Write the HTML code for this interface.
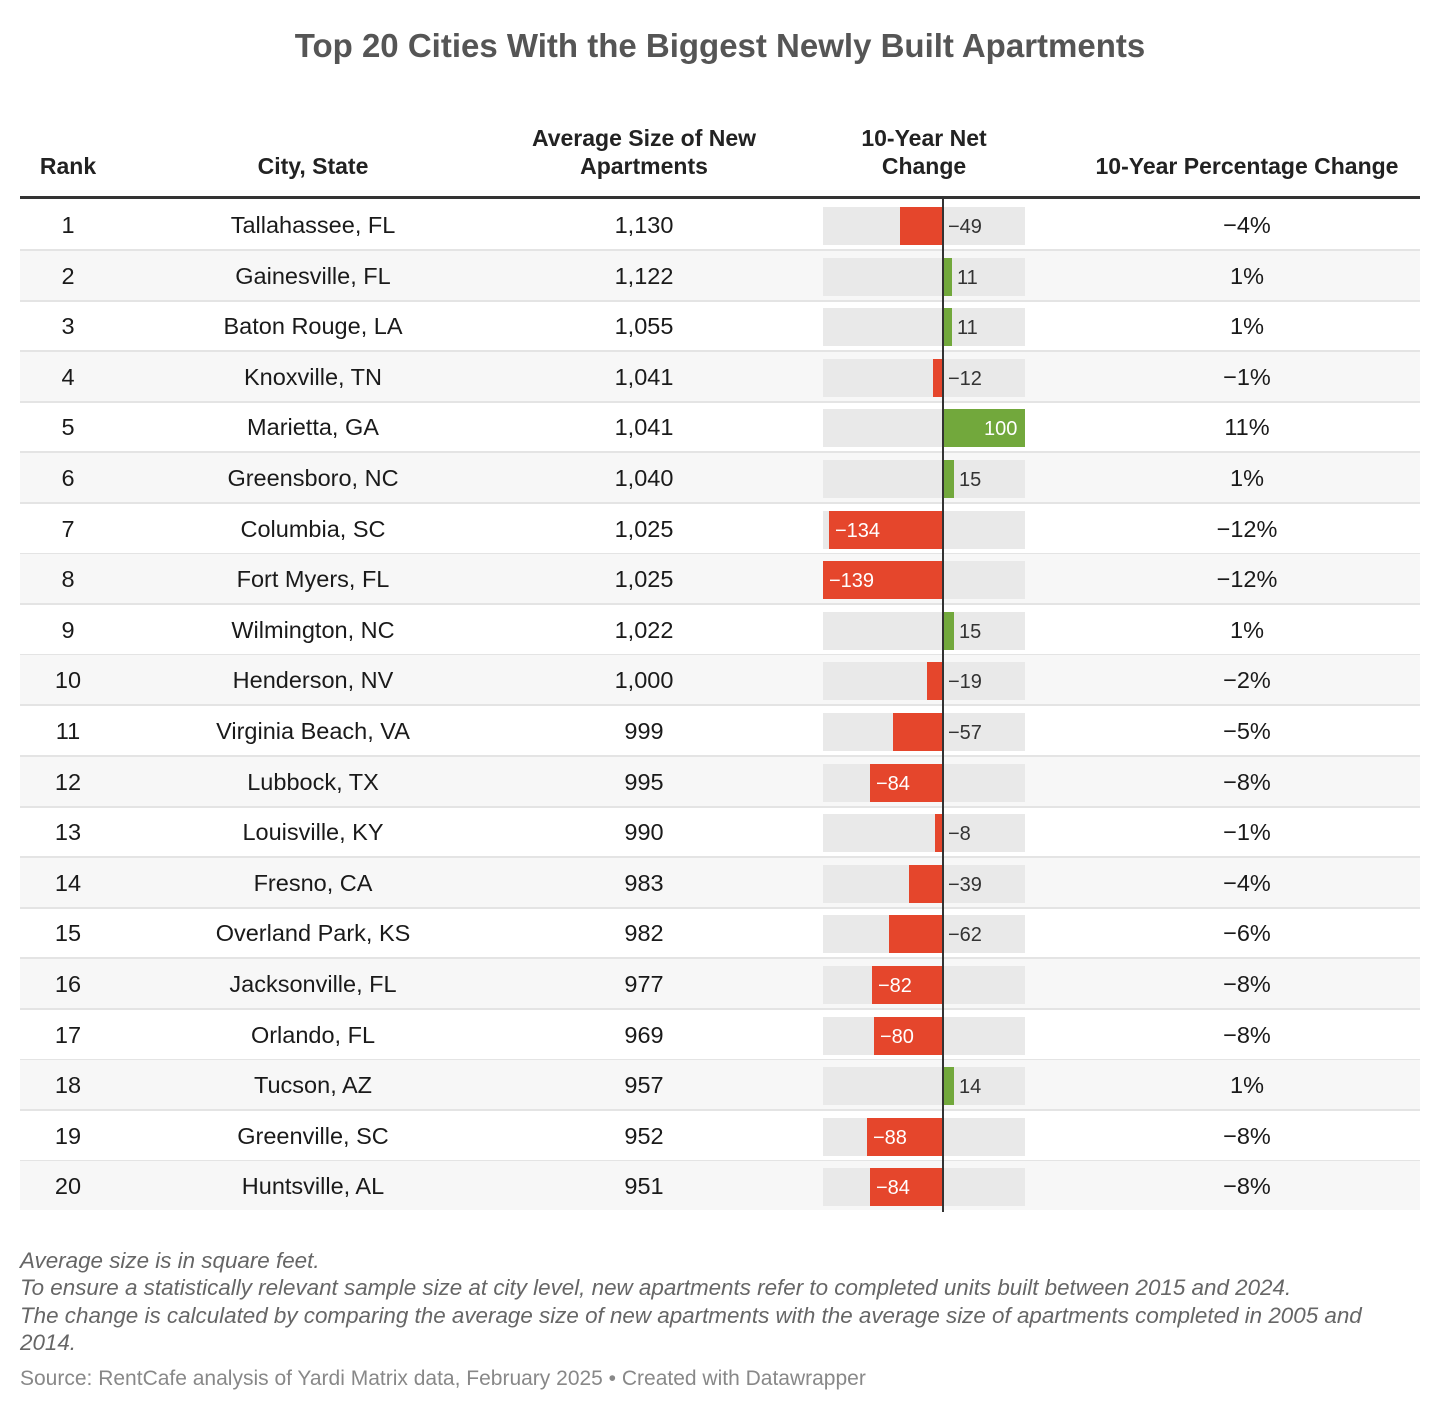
<!DOCTYPE html>
<html><head><meta charset="utf-8"><style>
body{margin:0;width:1440px;height:1413px;background:#fff;font-family:"Liberation Sans",sans-serif;color:#1a1a1a;position:relative;overflow:hidden}
.a{position:absolute}
.t{left:0;width:1440px;top:27px;text-align:center;font-size:33px;font-weight:bold;color:#555}
.h{font-weight:bold;font-size:23px;text-align:center;line-height:28px;color:#222;white-space:nowrap}
.r{position:absolute;left:20px;width:1400px;height:49px;border-bottom:2px solid #e4e4e4;font-size:23.5px}
.r.s{background:#f7f7f7}
.c{position:absolute;top:1px;line-height:49px;text-align:center}
.c1{left:0;width:96px}.c2{left:143px;width:300px}.c3{left:524px;width:200px}.c5{left:1127px;width:200px}
.bg{position:absolute;left:803px;top:7px;width:202px;height:38px;background:#e9e9e9}
.n{position:absolute;top:7px;height:38px;background:#e5462c}
.p{position:absolute;top:7px;height:38px;background:#72a83c;left:923px}
.l{position:absolute;top:8px;line-height:38px;font-size:20px;color:#333}
.w{color:#fff}
.f{left:20px;font-size:22.4px;font-style:italic;color:#666;line-height:27.3px;top:1247px;width:1410px;white-space:nowrap}
.src{left:20px;top:1367px;font-size:21px;color:#888}
</style></head><body>
<div class="a t">Top 20 Cities With the Biggest Newly Built Apartments</div>
<div class="a h" style="left:20px;width:96px;top:152px">Rank</div>
<div class="a h" style="left:163px;width:300px;top:152px">City, State</div>
<div class="a h" style="left:494px;width:300px;top:124px">Average Size of New<br>Apartments</div>
<div class="a h" style="left:823px;width:202px;top:124px">10-Year Net<br>Change</div>
<div class="a h" style="left:1067px;width:360px;top:152px">10-Year Percentage Change</div>
<div class="a" style="left:20px;top:196px;width:1400px;height:3px;background:#333"></div>

<div class="r" style="top:200px"><div class="c c1">1</div><div class="c c2">Tallahassee, FL</div><div class="c c3">1,130</div><div class="bg"></div><div class="n" style="left:880px;width:43px"></div><div class="l" style="left:928px">−49</div><div class="c c5">−4%</div></div>
<div class="r s" style="top:250.6px"><div class="c c1">2</div><div class="c c2">Gainesville, FL</div><div class="c c3">1,122</div><div class="bg"></div><div class="p" style="width:9px"></div><div class="l" style="left:937px">11</div><div class="c c5">1%</div></div>
<div class="r" style="top:301.2px"><div class="c c1">3</div><div class="c c2">Baton Rouge, LA</div><div class="c c3">1,055</div><div class="bg"></div><div class="p" style="width:9px"></div><div class="l" style="left:937px">11</div><div class="c c5">1%</div></div>
<div class="r s" style="top:351.8px"><div class="c c1">4</div><div class="c c2">Knoxville, TN</div><div class="c c3">1,041</div><div class="bg"></div><div class="n" style="left:913px;width:10px"></div><div class="l" style="left:928px">−12</div><div class="c c5">−1%</div></div>
<div class="r" style="top:402.4px"><div class="c c1">5</div><div class="c c2">Marietta, GA</div><div class="c c3">1,041</div><div class="bg"></div><div class="p" style="width:82px"></div><div class="l w" style="left:964px">100</div><div class="c c5">11%</div></div>
<div class="r s" style="top:453px"><div class="c c1">6</div><div class="c c2">Greensboro, NC</div><div class="c c3">1,040</div><div class="bg"></div><div class="p" style="width:11px"></div><div class="l" style="left:939px">15</div><div class="c c5">1%</div></div>
<div class="r" style="top:503.6px"><div class="c c1">7</div><div class="c c2">Columbia, SC</div><div class="c c3">1,025</div><div class="bg"></div><div class="n" style="left:809px;width:114px"></div><div class="l w" style="left:815px">−134</div><div class="c c5">−12%</div></div>
<div class="r s" style="top:554.2px"><div class="c c1">8</div><div class="c c2">Fort Myers, FL</div><div class="c c3">1,025</div><div class="bg"></div><div class="n" style="left:803px;width:120px"></div><div class="l w" style="left:809px">−139</div><div class="c c5">−12%</div></div>
<div class="r" style="top:604.8px"><div class="c c1">9</div><div class="c c2">Wilmington, NC</div><div class="c c3">1,022</div><div class="bg"></div><div class="p" style="width:11px"></div><div class="l" style="left:939px">15</div><div class="c c5">1%</div></div>
<div class="r s" style="top:655.4px"><div class="c c1">10</div><div class="c c2">Henderson, NV</div><div class="c c3">1,000</div><div class="bg"></div><div class="n" style="left:907px;width:16px"></div><div class="l" style="left:928px">−19</div><div class="c c5">−2%</div></div>
<div class="r" style="top:706px"><div class="c c1">11</div><div class="c c2">Virginia Beach, VA</div><div class="c c3">999</div><div class="bg"></div><div class="n" style="left:873px;width:50px"></div><div class="l" style="left:928px">−57</div><div class="c c5">−5%</div></div>
<div class="r s" style="top:756.6px"><div class="c c1">12</div><div class="c c2">Lubbock, TX</div><div class="c c3">995</div><div class="bg"></div><div class="n" style="left:850px;width:73px"></div><div class="l w" style="left:856px">−84</div><div class="c c5">−8%</div></div>
<div class="r" style="top:807.2px"><div class="c c1">13</div><div class="c c2">Louisville, KY</div><div class="c c3">990</div><div class="bg"></div><div class="n" style="left:915px;width:8px"></div><div class="l" style="left:928px">−8</div><div class="c c5">−1%</div></div>
<div class="r s" style="top:857.8px"><div class="c c1">14</div><div class="c c2">Fresno, CA</div><div class="c c3">983</div><div class="bg"></div><div class="n" style="left:889px;width:34px"></div><div class="l" style="left:928px">−39</div><div class="c c5">−4%</div></div>
<div class="r" style="top:908.4px"><div class="c c1">15</div><div class="c c2">Overland Park, KS</div><div class="c c3">982</div><div class="bg"></div><div class="n" style="left:869px;width:54px"></div><div class="l" style="left:928px">−62</div><div class="c c5">−6%</div></div>
<div class="r s" style="top:959px"><div class="c c1">16</div><div class="c c2">Jacksonville, FL</div><div class="c c3">977</div><div class="bg"></div><div class="n" style="left:852px;width:71px"></div><div class="l w" style="left:858px">−82</div><div class="c c5">−8%</div></div>
<div class="r" style="top:1009.6px"><div class="c c1">17</div><div class="c c2">Orlando, FL</div><div class="c c3">969</div><div class="bg"></div><div class="n" style="left:854px;width:69px"></div><div class="l w" style="left:860px">−80</div><div class="c c5">−8%</div></div>
<div class="r s" style="top:1060.2px"><div class="c c1">18</div><div class="c c2">Tucson, AZ</div><div class="c c3">957</div><div class="bg"></div><div class="p" style="width:11px"></div><div class="l" style="left:939px">14</div><div class="c c5">1%</div></div>
<div class="r" style="top:1110.8px"><div class="c c1">19</div><div class="c c2">Greenville, SC</div><div class="c c3">952</div><div class="bg"></div><div class="n" style="left:847px;width:76px"></div><div class="l w" style="left:853px">−88</div><div class="c c5">−8%</div></div>
<div class="r s" style="top:1161.4px;border-bottom:none"><div class="c c1">20</div><div class="c c2">Huntsville, AL</div><div class="c c3">951</div><div class="bg"></div><div class="n" style="left:850px;width:73px"></div><div class="l w" style="left:856px">−84</div><div class="c c5">−8%</div></div>

<div class="a" style="left:942px;top:198px;width:1.5px;height:1014px;background:#333"></div>

<div class="a f">Average size is in square feet.<br>To ensure a statistically relevant sample size at city level, new apartments refer to completed units built between 2015 and 2024.<br>The change is calculated by comparing the average size of new apartments with the average size of apartments completed in 2005 and<br>2014.</div>
<div class="a src">Source: RentCafe analysis of Yardi Matrix data, February 2025 • Created with Datawrapper</div>
</body></html>
